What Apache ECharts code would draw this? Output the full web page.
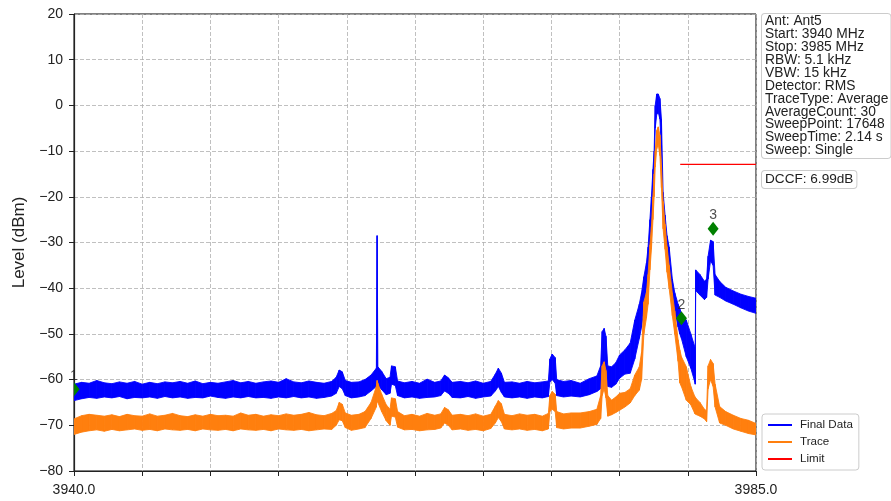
<!DOCTYPE html>
<html>
<head>
<meta charset="utf-8">
<script src="https://cdn.jsdelivr.net/npm/echarts@6/dist/echarts.min.js"></script>
<style>html,body{margin:0;padding:0;background:#fff}#c{width:891px;height:501px}</style>
</head>
<body>
<div id="c"></div>
<script>
const freq = [
3940.0,3940.5,3941.0,3941.5,3942.0,3942.5,3943.0,3943.5,3944.0,3944.5,
3945.0,3945.5,3946.0,3946.5,3947.0,3947.5,3948.0,3948.5,3949.0,3949.5,
3950.0,3950.5,3951.0,3951.5,3952.0,3952.5,3953.0,3953.5,3954.0,3954.5,
3955.0,3955.5,3956.0,3956.5,3957.0,3957.3,3957.5,3957.7,3957.9,3958.3,
3958.8,3959.2,3959.6,3959.95,3960.0,3960.05,3960.3,3960.6,3960.85,3960.95,
3961.2,3961.35,3961.8,3962.3,3962.8,3963.3,3963.8,3964.2,3964.45,3964.7,
3964.95,3965.5,3966.0,3966.5,3967.0,3967.5,3967.8,3968.0,3968.2,3968.4,
3968.9,3969.4,3969.9,3970.4,3970.9,3971.3,3971.4,3971.55,3971.75,3971.85,
3972.3,3972.8,3973.4,3974.0,3974.5,3974.75,3974.85,3974.98,3975.1,3975.22,
3975.47,3975.75,3976.0,3976.35,3976.7,3977.0,3977.3,3977.45,3977.6,3977.77,
3977.88,3978.0,3978.1,3978.2,3978.28,3978.35,3978.45,3978.55,3978.66,3978.76,
3978.87,3979.0,3979.13,3979.27,3979.48,3979.64,3979.86,3979.97,3980.08,3980.4,
3980.7,3980.96,3980.99,3981.02,3981.3,3981.6,3981.74,3981.84,3982.0,3982.17,
3982.3,3982.6,3983.0,3983.5,3984.0,3984.5,3985.0
];
const blueLo = [
-64.6,-64.2,-63.9,-64.1,-63.8,-64.0,-63.7,-64.2,-63.9,-64.0,
-63.8,-64.1,-63.7,-64.0,-63.8,-64.1,-63.9,-64.0,-63.6,-63.9,
-64.1,-63.8,-64.0,-63.7,-64.0,-63.9,-64.1,-63.8,-64.0,-63.7,
-64.0,-63.8,-64.1,-63.9,-63.6,-63.0,-61.5,-62.0,-63.5,-64.0,
-63.8,-63.5,-62.5,-61.5,-61.0,-61.2,-62.2,-63.3,-63.0,-61.0,
-61.3,-63.5,-64.0,-63.8,-64.1,-63.9,-63.8,-63.5,-62.5,-63.0,
-63.9,-64.0,-63.7,-64.1,-63.8,-63.6,-62.5,-61.5,-62.8,-63.8,
-64.0,-63.8,-64.1,-63.8,-64.0,-63.7,-60.5,-60.0,-60.8,-63.5,
-63.8,-63.6,-63.8,-63.3,-62.6,-62.0,-58.0,-57.0,-58.5,-61.5,
-61.7,-61.0,-59.7,-58.8,-58.6,-55.5,-51.0,-48.5,-44.5,-40.0,
-36.5,-31.0,-26.0,-19.0,-14.0,-5.0,-2.0,-1.5,-3.0,-10.0,
-24.0,-28.5,-33.0,-36.5,-42.0,-45.0,-48.5,-50.0,-51.0,-55.0,
-57.5,-60.5,-61.0,-40.5,-41.5,-42.5,-42.0,-38.0,-34.0,-35.0,
-41.5,-42.0,-42.8,-43.5,-44.3,-45.0,-45.5
];
const blueHi = [
-61.0,-60.6,-60.8,-60.2,-60.7,-60.9,-60.5,-60.8,-60.4,-61.0,
-60.6,-60.9,-60.5,-60.7,-60.4,-60.8,-60.3,-60.9,-60.6,-60.8,
-60.5,-60.2,-60.7,-60.4,-60.8,-60.5,-60.3,-60.6,-59.8,-60.5,
-60.7,-60.3,-60.6,-60.8,-60.4,-59.5,-57.9,-58.3,-60.2,-60.6,
-60.5,-60.0,-59.0,-57.5,-28.5,-57.2,-58.2,-59.8,-59.5,-57.0,
-57.2,-60.3,-60.7,-60.4,-60.8,-59.9,-60.6,-60.3,-59.0,-59.6,
-60.6,-60.4,-60.7,-60.3,-60.8,-60.4,-58.8,-57.5,-58.6,-60.6,
-60.5,-60.8,-60.4,-60.7,-60.5,-60.3,-55.5,-54.4,-55.2,-60.0,
-60.4,-60.2,-60.8,-59.8,-59.2,-57.0,-49.5,-48.8,-50.5,-57.0,
-57.2,-56.3,-54.6,-53.5,-52.0,-47.0,-43.5,-41.0,-37.5,-34.5,
-31.0,-25.0,-20.0,-14.0,-10.0,0.0,2.5,2.5,1.5,-3.0,
-19.0,-24.0,-28.5,-31.0,-38.0,-41.0,-43.5,-44.5,-45.5,-47.0,
-50.0,-52.8,-55.0,-36.0,-37.0,-38.5,-38.0,-33.0,-29.5,-29.8,
-37.0,-38.5,-39.8,-40.6,-41.3,-41.8,-42.2
];
const orangeLo = [
-72.0,-71.5,-71.2,-71.0,-71.3,-70.9,-71.2,-71.0,-70.8,-71.1,
-70.9,-71.2,-70.8,-71.0,-71.1,-70.9,-71.2,-70.8,-71.0,-71.1,
-70.9,-71.2,-70.8,-71.0,-71.1,-70.9,-71.2,-70.8,-71.0,-71.1,
-70.9,-71.2,-71.0,-70.8,-70.9,-70.0,-68.8,-69.0,-70.5,-71.1,
-70.8,-70.5,-68.5,-66.0,-64.5,-65.0,-67.0,-69.0,-70.0,-68.0,
-68.2,-70.4,-71.0,-70.9,-71.2,-71.0,-70.9,-70.6,-69.5,-70.0,
-71.0,-70.8,-71.1,-70.9,-71.2,-70.7,-69.5,-68.3,-69.2,-70.8,
-71.0,-70.8,-71.1,-70.9,-71.2,-70.8,-67.0,-66.5,-67.0,-70.5,
-70.8,-70.6,-70.6,-70.2,-69.8,-68.5,-63.5,-62.0,-64.0,-68.0,
-67.7,-67.2,-66.7,-66.0,-65.1,-63.5,-62.3,-60.0,-50.0,-46.5,
-43.5,-36.0,-31.5,-25.0,-20.0,-13.5,-9.5,-8.5,-11.0,-18.0,
-27.0,-31.5,-36.5,-40.0,-46.0,-50.0,-56.0,-60.7,-61.5,-64.5,
-65.5,-67.4,-67.5,-67.6,-68.0,-68.6,-69.2,-62.0,-60.0,-61.5,
-66.0,-69.5,-70.0,-70.8,-71.3,-71.8,-72.1
];
const orangeHi = [
-68.6,-67.9,-67.6,-67.8,-68.0,-67.7,-68.1,-67.6,-67.9,-68.0,
-67.5,-68.0,-67.8,-67.4,-67.9,-68.1,-67.7,-68.0,-67.6,-67.9,
-67.8,-68.0,-67.3,-67.8,-67.6,-68.0,-67.7,-67.9,-67.5,-67.8,
-67.6,-67.2,-67.7,-67.9,-67.4,-66.8,-65.0,-65.4,-67.3,-67.8,
-67.6,-67.0,-65.0,-61.5,-60.2,-60.8,-63.2,-65.5,-66.5,-64.0,
-64.2,-67.0,-67.9,-67.6,-68.0,-67.4,-67.8,-67.5,-66.1,-66.6,
-67.8,-67.6,-67.9,-67.5,-68.0,-67.6,-65.8,-64.6,-65.3,-67.6,
-67.9,-67.5,-67.8,-67.6,-68.0,-67.4,-63.5,-62.6,-63.2,-67.0,
-67.5,-67.3,-67.3,-67.0,-66.5,-63.5,-57.0,-56.1,-58.0,-63.5,
-64.5,-63.8,-63.0,-62.8,-62.0,-59.0,-57.2,-54.0,-43.0,-41.0,
-37.0,-30.5,-26.5,-20.0,-15.0,-10.0,-5.5,-4.7,-6.5,-13.0,
-21.0,-26.0,-30.9,-35.0,-41.1,-45.0,-51.3,-53.5,-55.0,-57.2,
-61.5,-63.7,-63.9,-64.0,-65.0,-66.5,-66.8,-57.0,-55.6,-56.5,
-61.0,-65.9,-67.0,-67.8,-68.5,-68.9,-69.6
];
const limitFreq = [3980.0, 3985.0];
const limitLevel = [-12.9, -12.9];
const markerFreq = [3940.0, 3980.08, 3982.17];
const markerLevel = [-62.1, -46.6, -27.0];
const markerLabel = ['1', '2', '3'];
const infoLines = ['Ant: Ant5','Start: 3940 MHz','Stop: 3985 MHz','RBW: 5.1 kHz','VBW: 15 kHz','Detector: RMS','TraceType: Average','AverageCount: 30','SweepPoint: 17648','SweepTime: 2.14 s','Sweep: Single'];
const dccfText = 'DCCF: 6.99dB';
const xMin = 3940, xMax = 3985, yMin = -80, yMax = 20;

const FONT = 'Liberation Sans, Arial, Helvetica, sans-serif';
const BLUE = '#0000ff', ORANGE = '#ff7f0e', RED = '#ff0000', GREEN = '#008000';

function band(name, lo, hi, color) {
  const items = freq.slice(0, -1).map((f, i) => [f, lo[i], hi[i], freq[i + 1], lo[i + 1], hi[i + 1]]);
  return {
    name, type: 'custom', silent: true, clip: true,
    itemStyle: { color },
    encode: { x: [0, 3], y: [1, 2, 4, 5] },
    data: items,
    renderItem: (params, api) => {
      const a = api.coord([api.value(0), api.value(1)]);
      const b = api.coord([api.value(3), api.value(4)]);
      const c = api.coord([api.value(3), api.value(5)]);
      const d = api.coord([api.value(0), api.value(2)]);
      return { type: 'polygon', shape: { points: [a, b, c, d] },
        style: { fill: color, stroke: color, lineWidth: 0.9 } };
    }
  };
}

const chart = echarts.init(document.getElementById('c'), null, { renderer: 'canvas' });
const fmtMinus = v => String(v).replace('-', '\u2212');

chart.setOption({
  animation: false,
  backgroundColor: '#fff',
  textStyle: { fontFamily: FONT },
  grid: { left: 74, right: 135, top: 14, bottom: 30, show: true, borderColor: '#000', borderWidth: 1, backgroundColor: 'transparent' },
  xAxis: [
    { type: 'value', min: xMin, max: xMax, interval: xMax - xMin, position: 'bottom',
      axisLine: { show: true, onZero: false, lineStyle: { color: '#222', width: 1.2 } },
      axisTick: { show: false }, splitLine: { show: false },
      axisLabel: { color: '#222', fontSize: 14, margin: 12, fontFamily: FONT,
        formatter: v => (v === xMin || v === xMax) ? v.toFixed(1) : '' } },
    { type: 'value', min: 0, max: xMax - xMin, interval: 4.5, position: 'bottom',
      axisLine: { show: false, onZero: false },
      axisTick: { show: true, inside: false, length: 5, lineStyle: { color: '#222', width: 1 } },
      axisLabel: { show: false },
      splitLine: { show: true, lineStyle: { color: '#b0b0b0', type: [4, 2], width: 0.8 } } }
  ],
  yAxis: {
    type: 'value', min: yMin, max: yMax, interval: 10,
    name: 'Level (dBm)', nameLocation: 'middle', nameGap: 46,
    nameTextStyle: { fontSize: 17, color: '#222', fontFamily: FONT },
    axisLine: { show: true, onZero: false, lineStyle: { color: '#222', width: 1.2 } },
    axisTick: { show: true, length: 5, lineStyle: { color: '#222' } },
    axisLabel: { color: '#222', fontSize: 14, margin: 11, fontFamily: FONT, formatter: fmtMinus },
    splitLine: { show: true, lineStyle: { color: '#b0b0b0', type: [4, 2], width: 0.8 } }
  },
  legend: {
    orient: 'vertical', left: 762, top: 414,
    data: [
      { name: 'Final Data', icon: 'rect' },
      { name: 'Trace', icon: 'rect' },
      { name: 'Limit', icon: 'rect' }
    ],
    itemWidth: 24, itemHeight: 2, itemGap: 5,
    padding: [5, 6, 5, 6],
    borderColor: '#cccccc', borderWidth: 1, borderRadius: 3, backgroundColor: '#fff',
    textStyle: { fontSize: 11.6, color: '#222', fontFamily: FONT, padding: [0, 0, 0, 3] },
    selectedMode: false
  },
  graphic: [
    { type: 'text', left: 761, top: 13, z: 100,
      style: { text: infoLines.join('\n'), fontSize: 13.8, lineHeight: 12.9, fontFamily: FONT, fill: '#222',
        backgroundColor: '#fff', borderColor: '#cccccc', borderWidth: 1, borderRadius: 3, padding: [1, 2, 1, 3] } },
    { type: 'text', left: 761, top: 170, z: 100,
      style: { text: dccfText, fontSize: 13.6, lineHeight: 15, fontFamily: FONT, fill: '#222',
        backgroundColor: '#fff', borderColor: '#cccccc', borderWidth: 1, borderRadius: 3, padding: [1, 3, 1, 3] } }
  ],
  series: [
    band('Final Data', blueLo, blueHi, BLUE),
    band('Trace', orangeLo, orangeHi, ORANGE),
    { name: 'Limit', type: 'line', symbol: 'none', silent: true,
      data: limitFreq.map((f, i) => [f, limitLevel[i]]),
      lineStyle: { color: RED, width: 1.2 }, itemStyle: { color: RED } },
    { name: 'Markers', type: 'custom', clip: true, silent: true, z: 10,
      itemStyle: { color: GREEN },
      data: markerFreq.map((f, i) => [f, markerLevel[i]]),
      renderItem: (params, api) => {
        const p = api.coord([api.value(0), api.value(1)]);
        return { type: 'polygon',
          shape: { points: [[p[0], p[1] - 7], [p[0] + 5.5, p[1]], [p[0], p[1] + 7], [p[0] - 5.5, p[1]]] },
          style: { fill: GREEN } };
      } },
    { name: 'MarkerLabels', type: 'scatter', symbol: 'circle', symbolSize: 1, silent: true, z: 11, clip: false,
      itemStyle: { color: 'rgba(0,0,0,0)' },
      data: markerFreq.map((f, i) => ({ value: [f, markerLevel[i]], label: { formatter: markerLabel[i] } })),
      label: { show: true, position: 'top', distance: 6, fontSize: 14, color: '#222', fontFamily: FONT } }
  ]
});
</script>
</body>
</html>
